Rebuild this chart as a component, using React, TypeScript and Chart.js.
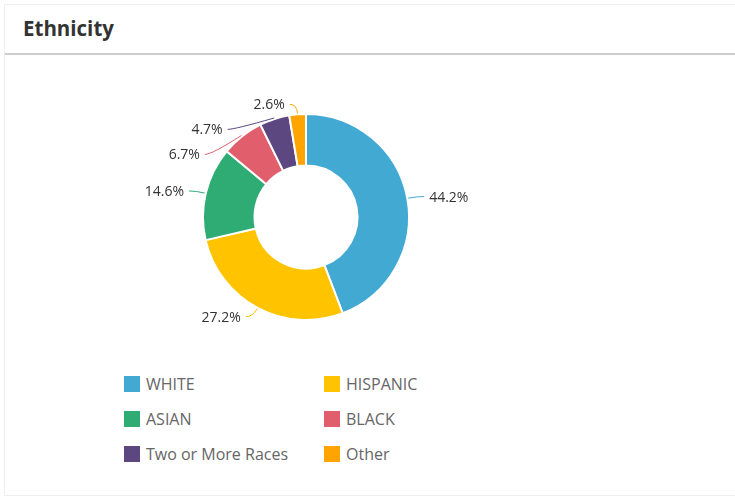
import React, { useEffect, useRef } from "react";
import { Chart, registerables } from "chart.js";

Chart.register(...registerables);

const categories = ["WHITE", "HISPANIC", "ASIAN", "BLACK", "Two or More Races", "Other"];
const shares = [44.2, 27.2, 14.6, 6.7, 4.7, 2.6];
const colors = ["#42a9d3", "#ffc300", "#2eac73", "#e15f6d", "#5c4780", "#ffa400"];
const title = "Ethnicity";

const FONT = "'Open Sans', sans-serif";

const calloutPlugin = {
  id: "callouts",
  afterDatasetsDraw(chart: any) {
    const meta = chart.getDatasetMeta(0);
    const ctx = chart.ctx as CanvasRenderingContext2D;
    const data = chart.data.datasets[0].data as number[];
    const items = meta.data.map((arc: any, i: number) => {
      const p = arc.getProps(["x", "y", "startAngle", "endAngle", "outerRadius"], true);
      const mid = (p.startAngle + p.endAngle) / 2;
      const cos = Math.cos(mid);
      const sin = Math.sin(mid);
      const side = cos >= 0 ? 1 : -1;
      const R1 = p.outerRadius + 10;
      return {
        i,
        cx: p.x,
        cy: p.y,
        r: p.outerRadius,
        cos,
        sin,
        side,
        R1,
        nx: p.x + R1 * cos,
        ny: p.y + R1 * sin,
        ax: 0,
        ay: 0,
      };
    });
    const spacing = 25;
    [-1, 1].forEach((s) => {
      const group = items.filter((it: any) => it.side === s).sort((a: any, b: any) => a.ny - b.ny);
      let prev = -Infinity;
      group.forEach((it: any) => {
        let y = it.ny;
        let pushed = false;
        if (y < prev + spacing) {
          y = prev + spacing;
          pushed = true;
        }
        it.ay = y;
        if (pushed) {
          const dy = y - it.cy;
          it.ax = it.cx + s * Math.sqrt(Math.max(it.R1 * it.R1 - dy * dy, 0));
        } else {
          it.ax = it.nx;
        }
        prev = y;
      });
    });
    ctx.save();
    items.forEach((it: any) => {
      const ex = it.ax + it.side * 7;
      const ey = it.ay;
      ctx.beginPath();
      ctx.moveTo(it.cx + (it.r + 1) * it.cos, it.cy + (it.r + 1) * it.sin);
      ctx.quadraticCurveTo(it.ax, it.ay, ex, ey);
      ctx.strokeStyle = colors[it.i];
      ctx.lineWidth = 1;
      ctx.stroke();
      ctx.fillStyle = "#333333";
      ctx.font = `14px ${FONT}`;
      ctx.textAlign = it.side > 0 ? "left" : "right";
      ctx.textBaseline = "middle";
      ctx.fillText(`${data[it.i].toFixed(1)}%`, ex + it.side * 5, ey + 1);
    });
    ctx.restore();
  },
};

function DonutChart() {
  const ref = useRef<HTMLCanvasElement | null>(null);
  useEffect(() => {
    if (!ref.current) return;
    const chart = new Chart(ref.current, {
      type: "doughnut",
      data: {
        labels: categories,
        datasets: [
          {
            data: shares,
            backgroundColor: colors,
            borderColor: "#ffffff",
            borderWidth: 2,
            hoverOffset: 0,
          },
        ],
      },
      options: {
        animation: false,
        responsive: true,
        maintainAspectRatio: false,
        cutout: "50%",
        layout: { padding: { left: 202, right: 325, top: 56, bottom: 40 } },
        plugins: {
          legend: { display: false },
          tooltip: { enabled: false },
        },
      },
      plugins: [calloutPlugin],
    });
    return () => chart.destroy();
  }, []);
  return (
    <div style={{ position: "absolute", left: 0, top: 57, width: 735, height: 304 }}>
      <canvas ref={ref} />
    </div>
  );
}

export default function App() {
  useEffect(() => {
    document.body.style.margin = "0";
  }, []);
  return (
    <div
      style={{
        position: "relative",
        width: 735,
        height: 502,
        overflow: "hidden",
        background: "#ffffff",
        fontFamily: FONT,
      }}
    >
      <div
        style={{
          position: "absolute",
          left: 4,
          top: 4,
          width: 760,
          height: 492,
          border: "1px solid #eeeeee",
          boxSizing: "border-box",
        }}
      />
      <div
        style={{
          position: "absolute",
          left: 23,
          top: 14,
          fontSize: 20.5,
          fontWeight: 700,
          color: "#333333",
          lineHeight: "28px",
        }}
      >
        {title}
      </div>
      <div
        style={{
          position: "absolute",
          left: 5,
          top: 53,
          width: 740,
          height: 2,
          background: "#cccccc",
        }}
      />
      <DonutChart />
      <div
        style={{
          position: "absolute",
          left: 124,
          top: 366,
          display: "grid",
          gridTemplateColumns: "200px 200px",
          rowGap: 0,
        }}
      >
        {categories.map((c, i) => (
          <div
            key={c}
            style={{ display: "flex", alignItems: "center", height: 35, color: "#666666", fontSize: 16 }}
          >
            <span
              style={{
                display: "inline-block",
                width: 16,
                height: 16,
                background: colors[i],
                marginRight: 6,
              }}
            />
            <span>{c}</span>
          </div>
        ))}
      </div>
    </div>
  );
}
